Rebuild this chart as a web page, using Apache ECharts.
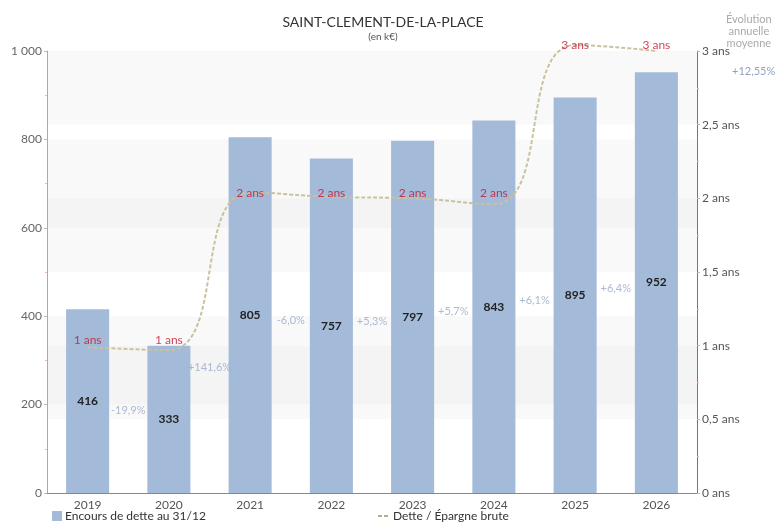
<!DOCTYPE html>
<html><head><meta charset="utf-8">
<script src="https://cdn.jsdelivr.net/npm/echarts@6/dist/echarts.min.js"></script>
<style>html,body{margin:0;padding:0;background:#fff}#c{width:776px;height:527px}</style>
</head><body><div id="c"></div>
<script>
const years = ['2019','2020','2021','2022','2023','2024','2025','2026'];
const debt = [416,333,805,757,797,843,895,952];
const ratio = [0.99,0.97,2.04,2.01,2.0,1.96,3.04,3.0];
const ratioLabels = ['1 ans','1 ans','2 ans','2 ans','2 ans','2 ans','3 ans','3 ans'];
const changeLabels = ['-19,9%','+141,6%','-6,0%','+5,3%','+5,7%','+6,1%','+6,4%'];
const avgChange = '+12,55%';
const titleText = 'SAINT-CLEMENT-DE-LA-PLACE';
const subText = '(en k€)';
const barName = 'Encours de dette au 31/12';
const lineName = 'Dette / Épargne brute';

const FONT = "'Lato', sans-serif";
const shade = ['rgba(0,0,0,0)','rgba(0,0,0,0.025)'];

const changePoints = changeLabels.map((t,i)=>[i+0.5,(debt[i]+debt[i+1])/4]);
const ratioRounded = ratio.map(v=>Math.round(v));

const chart = echarts.init(document.getElementById('c'));
chart.setOption({
  animation:false,
  textStyle:{fontFamily:FONT},
  title:{text:titleText,subtext:subText,left:378,top:10,textAlign:'center',itemGap:3,
    textStyle:{fontFamily:FONT,fontSize:14,fontWeight:'normal',color:'#333'},
    subtextStyle:{fontFamily:FONT,fontSize:10,color:'#555'}},
  graphic:[
    {type:'text',left:726,top:13,style:{text:'Évolution\nannuelle\nmoyenne',textAlign:'center',x:26,fill:'#aaa',font:"11px "+FONT,lineHeight:12}},
    {type:'text',left:732,top:66,style:{text:avgChange,fill:'#8fa2c6',font:"11px "+FONT}}
  ],
  legend:[
    {data:[{name:barName,icon:'rect'}],left:47,bottom:0,itemWidth:10,itemHeight:10,itemGap:4,textStyle:{fontFamily:FONT,fontSize:12,color:'#333',padding:[0,0,0,-2]}},
    {data:[{name:lineName,icon:'path://M0,4L4,4L4,6L0,6Z M6,4L10,4L10,6L6,6Z M0,0L0.01,0Z M0,10L0.01,10Z',itemStyle:{color:'#b5ae8a'}}],
     left:373,bottom:0,itemWidth:10,itemHeight:10,lineStyle:{opacity:0},textStyle:{fontFamily:FONT,fontSize:12,color:'#333'}}
  ],
  grid:{left:47,right:79,top:51,bottom:34},
  xAxis:[
    {type:'category',data:years,axisLine:{lineStyle:{color:'#888'}},axisTick:{show:false},
     axisLabel:{fontFamily:FONT,fontSize:12,color:'#555',margin:6}},
    {type:'value',min:-0.5,max:7.5,show:false}
  ],
  yAxis:[
    {type:'value',min:0,max:1000,interval:200,
     axisLine:{show:true,onZero:false,lineStyle:{color:'#aaa'}},axisTick:{show:true,length:3,lineStyle:{color:'#bbb'}},
     minorTick:{show:true,splitNumber:2,length:2,lineStyle:{color:'#f0b8b8'}},
     splitLine:{show:false},splitArea:{show:true,areaStyle:{color:shade}},
     axisLabel:{fontFamily:FONT,fontSize:12,color:'#666',margin:5,formatter:v=>v>=1000?String(v).replace(/\B(?=(\d{3})+(?!\d))/g,' '):String(v)}},
    {type:'value',min:0,max:3,interval:0.5,position:'right',
     axisLine:{show:true,onZero:false,lineStyle:{color:'#777'}},axisTick:{show:true,length:3,lineStyle:{color:'#bbb'}},
     minorTick:{show:true,splitNumber:2,length:2,lineStyle:{color:'#f0b8b8'}},
     splitLine:{show:false},splitArea:{show:true,areaStyle:{color:shade}},
     axisLabel:{fontFamily:FONT,fontSize:12,color:'#555',margin:5,formatter:v=>String(v).replace('.',',')+' ans'}}
  ],
  series:[
    {name:barName,type:'bar',data:debt,barWidth:'53%',itemStyle:{color:'#a4bad9'},
     label:{show:true,position:'inside',fontFamily:FONT,fontSize:12,fontWeight:'bold',color:'#222'}},
    {name:lineName,type:'line',yAxisIndex:1,data:ratio,smooth:0.5,symbol:'none',clip:false,
     lineStyle:{color:'#c9c29e',width:2,type:[4,2]},itemStyle:{color:'#c9c29e'},z:5},
    {type:'scatter',xAxisIndex:0,yAxisIndex:1,data:ratioRounded,symbolSize:1,silent:true,clip:false,
     itemStyle:{color:'rgba(0,0,0,0)'},z:6,
     label:{show:true,position:'top',distance:-1,fontFamily:FONT,fontSize:12,color:'#c0152f',formatter:p=>ratioLabels[p.dataIndex]}},
    {type:'scatter',xAxisIndex:1,yAxisIndex:0,data:changePoints,symbolSize:1,silent:true,
     itemStyle:{color:'rgba(0,0,0,0)'},
     label:{show:true,position:'inside',fontFamily:FONT,fontSize:11,color:'#98a8c8',formatter:p=>changeLabels[p.dataIndex]}}
  ]
});
</script></body></html>
